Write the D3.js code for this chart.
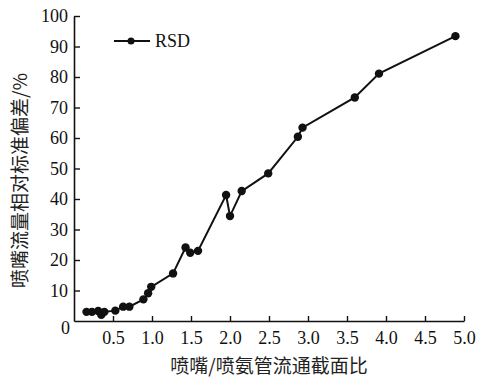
<!DOCTYPE html>
<html>
<head>
<meta charset="utf-8">
<script src="https://cdn.jsdelivr.net/npm/d3@7"></script>
<style>
  body { margin: 0; background: #fff; }
  svg { display: block; }
</style>
</head>
<body>
<svg></svg>
<script>
// values
let ratio = [0.16, 0.23, 0.31, 0.35, 0.39, 0.53, 0.63, 0.71, 0.89, 0.95, 0.99, 1.27,
             1.43, 1.49, 1.59, 1.95, 2.00, 2.15, 2.49, 2.87, 2.93, 3.60, 3.91, 4.89]
let rsd = [3.0, 3.0, 3.3, 2.0, 3.0, 3.4, 4.7, 4.7, 7.1, 9.1, 11.2, 15.6,
           24.1, 22.4, 23.0, 41.3, 34.4, 42.6, 48.4, 60.4, 63.4, 73.3, 81.1, 93.4]
let xTicks = [0.5, 1.0, 1.5, 2.0, 2.5, 3.0, 3.5, 4.0, 4.5, 5.0]
let yTicks = [10, 20, 30, 40, 50, 60, 70, 80, 90, 100]
let seriesName = 'RSD'
let xTitle = '喷嘴/喷氨管流通截面比'
let yTitle = '喷嘴流量相对标准偏差/%'

let width = 478
let height = 378
let padL = 74, padR = 464, padT = 16, padB = 321

let svg = d3.select('svg')
    .attr('width', width)
    .attr('height', height)

let values = ratio.map((r, i) => ({ x: r, y: rsd[i] }))

let xScale = d3.scaleLinear().domain([0, 5]).range([padL, padR])
let yScale = d3.scaleLinear().domain([0, 100]).range([padB, padT])

let numFont = '"Liberation Serif", "Times New Roman", serif'
let cjkFont = '"Noto Sans CJK SC", sans-serif'

// axes, ticks point inward
let xAxis = d3.axisBottom(xScale).tickValues(xTicks).tickSizeInner(-5).tickSizeOuter(0)
    .tickPadding(10).tickFormat(d3.format('.1f'))
let yAxis = d3.axisLeft(yScale).tickValues(yTicks).tickSizeInner(-6).tickSizeOuter(0)
    .tickPadding(6).tickFormat(d3.format('d'))

let gx = svg.append('g')
    .attr('transform', 'translate(0,' + padB + ')')
    .call(xAxis)
gx.select('.domain').attr('stroke', '#111').attr('stroke-width', 1.6)
gx.selectAll('.tick line').attr('stroke', '#111').attr('stroke-width', 1.4)
gx.selectAll('.tick text')
    .style('font-family', numFont).style('font-size', '18px').attr('fill', '#111')

let gy = svg.append('g')
    .attr('transform', 'translate(' + padL + ',0)')
    .call(yAxis)
gy.select('.domain').attr('stroke', '#111').attr('stroke-width', 1.6)
gy.selectAll('.tick line').attr('stroke', '#111').attr('stroke-width', 1.4)
gy.selectAll('.tick text')
    .style('font-family', numFont).style('font-size', '18px').attr('fill', '#111')

// origin label
svg.append('text')
    .attr('x', xScale(0) - 4)
    .attr('y', yScale(0) + 13)
    .attr('text-anchor', 'end')
    .style('font-family', numFont).style('font-size', '18px').attr('fill', '#111')
    .text('0')

// line + dots
let line = d3.line().x(d => xScale(d.x)).y(d => yScale(d.y))
svg.append('path')
    .datum(values)
    .attr('d', line)
    .attr('fill', 'none')
    .attr('stroke', '#111')
    .attr('stroke-width', 2)

svg.selectAll('circle.pt')
    .data(values)
    .enter()
    .append('circle')
    .attr('class', 'pt')
    .attr('cx', d => xScale(d.x))
    .attr('cy', d => yScale(d.y))
    .attr('r', 4.2)
    .attr('fill', '#111')

// legend
let lg = svg.append('g').attr('transform', 'translate(114,41)')
lg.append('line').attr('x1', 0).attr('x2', 36).attr('y1', 0).attr('y2', 0)
    .attr('stroke', '#111').attr('stroke-width', 2)
lg.append('circle').attr('cx', 17).attr('cy', 0).attr('r', 3.5).attr('fill', '#111')
lg.append('text').attr('x', 41).attr('y', 6)
    .style('font-family', numFont).style('font-size', '18px').attr('fill', '#111')
    .text(seriesName)

// axis titles
svg.append('text')
    .attr('x', (padL + padR) / 2)
    .attr('y', 373)
    .attr('text-anchor', 'middle')
    .style('font-family', cjkFont).style('font-size', '19px').attr('fill', '#222')
    .text(xTitle)

svg.append('text')
    .attr('transform', 'translate(27,' + ((padT + padB) / 2 + 12) + ') rotate(-90)')
    .attr('text-anchor', 'middle')
    .style('font-family', cjkFont).style('font-size', '19px').attr('fill', '#222')
    .text(yTitle)
</script>
</body>
</html>
